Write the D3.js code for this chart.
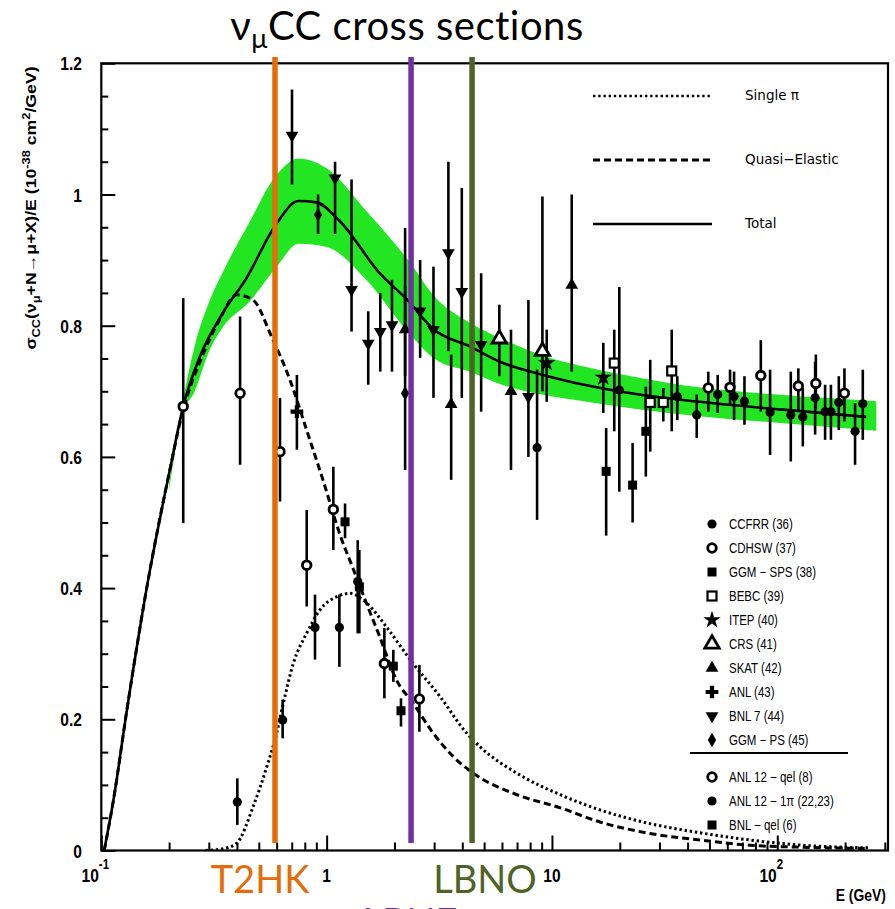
<!DOCTYPE html>
<html><head><meta charset="utf-8">
<script src="https://cdn.jsdelivr.net/npm/d3@7/dist/d3.min.js"></script>
<style>html,body{margin:0;padding:0;background:#fff;}svg{display:block}</style>
</head><body>
<svg id="chart" width="895" height="909"></svg>
<script>
// ---------------- data ----------------
const xDomain = [0.1, 310];
const yDomain = [0, 1.2];
const xMajorTicks = [0.1, 1, 10, 100];
const xMinorTicks = [0.2,0.3,0.4,0.5,0.6,0.7,0.8,0.9,2,3,4,5,6,7,8,9,20,30,40,50,60,70,80,90,200,300];
const xTickBase = ["10", "1", "10", "10"];
const xTickExp  = ["-1", "", "", "2"];
const yMajorTicks = [0, 0.2, 0.4, 0.6, 0.8, 1.0, 1.2];
const yMinorTicks = [0.05,0.1,0.15,0.25,0.3,0.35,0.45,0.5,0.55,0.65,0.7,0.75,0.85,0.9,0.95,1.05,1.1,1.15];
const yTickLabels = ["0", "0.2", "0.4", "0.6", "0.8", "1", "1.2"];

// Total cross-section prediction
const totalE = [0.103,0.113,0.13,0.16,0.2,0.231,0.274,0.35,0.44,0.59,0.75,0.9,1.14,1.72,2.27,2.97,4.34,5.88,9.14,14.8,24.4,45,106,248];
const totalV = [0.0,0.075,0.215,0.405,0.575,0.677,0.753,0.822,0.872,0.952,0.99,0.988,0.96,0.88,0.84,0.795,0.768,0.745,0.725,0.708,0.695,0.684,0.672,0.661];
// uncertainty band
const bandE  = [0.2,0.23,0.26,0.3,0.35,0.45,0.6,0.75,1.0,1.5,2.3,3.0,4.3,6,9,15,25,45,100,275];
const bandHi = [0.56,0.685,0.77,0.835,0.885,0.955,1.03,1.055,1.04,0.975,0.9,0.845,0.805,0.78,0.755,0.735,0.72,0.706,0.695,0.685];
const bandLo = [0.55,0.665,0.70,0.76,0.80,0.835,0.89,0.925,0.92,0.87,0.79,0.75,0.73,0.71,0.695,0.683,0.672,0.662,0.652,0.64];
// Quasi-elastic
const qelE = [0.103,0.113,0.13,0.16,0.2,0.231,0.274,0.33,0.40,0.472,0.57,0.688,0.815,0.963,1.15,1.31,1.51,1.72,2.04,2.42,2.97,3.65,4.47,7,10.9,16.3,27.2,45.4,75.6,130,253];
const qelV = [0.0,0.075,0.215,0.405,0.575,0.672,0.745,0.805,0.847,0.839,0.783,0.717,0.641,0.565,0.48,0.43,0.375,0.326,0.26,0.2245,0.179,0.143,0.118,0.085,0.065,0.0435,0.026,0.016,0.008,0.005,0.003];
// Single pion
const pionE = [0.29,0.35,0.399,0.472,0.543,0.6,0.643,0.711,0.815,0.935,1.11,1.27,1.51,1.84,2.42,3.18,4.18,4.8,7.3,10.9,16.3,27.2,45.4,75.6,130,253];
const pionV = [0.0,0.003,0.011,0.067,0.128,0.179,0.225,0.285,0.331,0.367,0.387,0.392,0.377,0.341,0.285,0.235,0.179,0.158,0.114,0.085,0.062,0.041,0.027,0.016,0.008,0.004];

// measurements: [E (GeV), sigma/E, lower end of error bar, upper end of error bar]
const ccfrr = [[8.59,0.614,0.504,0.733],[19.9,0.702,0.547,0.859],[36.0,0.692,0.656,0.723],[43.9,0.664,0.629,0.695],
  [54.4,0.695,0.667,0.725],[64.3,0.692,0.656,0.730],[71.5,0.685,0.649,0.723],[92.9,0.668,0.603,0.733],
  [114.8,0.664,0.593,0.730],[129.8,0.661,0.616,0.705],[147.2,0.690,0.634,0.745],[163,0.669,0.626,0.710],
  [173,0.669,0.626,0.710],[187.5,0.683,0.641,0.723],[221.4,0.639,0.588,0.682],[239.6,0.681,0.626,0.733]];
const cdhsw = [[49.4,0.705,0.669,0.730],[61.7,0.706,0.679,0.733],[84.5,0.724,0.669,0.778],[124,0.708,0.669,0.735],
  [148.3,0.712,0.672,0.756],[198.6,0.697,0.654,0.735]];
const ggmSps = [[17.4,0.578,0.48,0.644],[22.8,0.557,0.50,0.621],[26.1,0.639,0.570,0.707]];
const bebc = [[18.9,0.743,0.639,0.794],[27.3,0.683,0.608,0.748],[31.2,0.683,0.654,0.705],[34.0,0.731,0.639,0.794]];
const itep = [[9.48,0.743,0.684,0.794],[16.9,0.721,0.667,0.774]];
const crs = [[5.84,0.780,0.723,0.832],[9.07,0.761,0.70,0.997]];
const skat = [[2.23,0.794,0.723,0.949],[3.57,0.680,0.565,0.756],[6.58,0.700,0.580,0.794],[12.24,0.862,0.730,1.0]];
const anl = [[0.738,0.669,0.611,0.725]];
const bnl7 = [[0.702,1.090,1.015,1.16],[1.09,1.025,0.94,1.05],[1.29,0.855,0.791,1.023],[1.53,0.773,0.710,0.822],
  [1.73,0.791,0.730,0.850],[1.95,0.801,0.730,0.870],[2.60,0.822,0.751,0.900],[2.98,0.794,0.690,0.890],
  [3.47,0.911,0.761,1.050],[3.98,0.852,0.690,1.010],[4.85,0.771,0.669,0.880],[7.86,0.692,0.60,0.839]];
const ggmPs = [[0.916,0.969,0.94,1.0],[2.23,0.697,0.580,0.860]];
const anl12qel = [[0.231,0.677,0.499,0.842],[0.413,0.697,0.588,0.814],[0.621,0.608,0.532,0.690],[0.816,0.435,0.372,0.519],
  [1.071,0.520,0.458,0.585],[1.804,0.285,0.232,0.339],[2.58,0.231,0.181,0.283]];
const anl12pi = [[0.4015,0.074,0.039,0.110],[0.638,0.199,0.171,0.230],[0.888,0.340,0.291,0.390],[1.139,0.340,0.280,0.390],
  [1.374,0.410,0.331,0.473]];
const bnlQel = [[1.207,0.501,0.476,0.529],[1.397,0.402,0.331,0.458],[1.977,0.281,0.257,0.306],[2.138,0.213,0.189,0.232]];

const seriesNames = ["CCFRR (36)","CDHSW (37)","GGM − SPS (38)","BEBC (39)","ITEP (40)","CRS (41)","SKAT (42)","ANL (43)","BNL 7 (44)","GGM − PS (45)","ANL 12 − qel (8)","ANL 12 − 1π (22,23)","BNL − qel (6)"];
const seriesData = [ccfrr, cdhsw, ggmSps, bebc, itep, crs, skat, anl, bnl7, ggmPs, anl12qel, anl12pi, bnlQel];
const curveNames = ["Single π", "Quasi−Elastic", "Total"];
const experimentNames = ["T2HK", "LBNE", "LBNO"];
const experimentE = [0.59, 2.37, 4.42];

// ---------------- layout / style ----------------
const W = 895, H = 909;
const plot = {left: 101.3, right: 888, top: 63.3, bottom: 850.5};
const seriesMarker = ["fcircle","ocircle","fsquare","osquare","star","otri","ftri","cross","dtri","diamond","ocircle","fcircle","fsquare"];
const expColors = ["#E46C0A", "#7030A0", "#4F6228"];
const bandColor = "#22e622";

const svg = d3.select("#chart");
svg.append("rect").attr("width", W).attr("height", H).attr("fill", "#fff");

const x = d3.scaleLog().domain(xDomain).range([plot.left, plot.right]);
const y = d3.scaleLinear().domain(yDomain).range([plot.bottom, plot.top]);

svg.append("clipPath").attr("id", "clip").append("rect")
  .attr("x", plot.left).attr("y", plot.top)
  .attr("width", plot.right - plot.left).attr("height", plot.bottom - plot.top);

const gPlot = svg.append("g").attr("clip-path", "url(#clip)");

// band
const band = bandE.map((e, i) => ({e, lo: bandLo[i], hi: bandHi[i]}));
gPlot.append("path").datum(band)
  .attr("d", d3.area().x(d => x(d.e)).y0(d => y(d.lo)).y1(d => y(d.hi)).curve(d3.curveMonotoneX))
  .attr("fill", bandColor);

const line = d3.line().x(d => x(d[0])).y(d => y(d[1])).curve(d3.curveMonotoneX);
gPlot.append("path").datum(pionE.map((e, i) => [e, pionV[i]]))
  .attr("d", line).attr("fill", "none").attr("stroke", "#000")
  .attr("stroke-width", 3).attr("stroke-dasharray", "2.4,2.8");
gPlot.append("path").datum(qelE.map((e, i) => [e, qelV[i]]))
  .attr("d", line).attr("fill", "none").attr("stroke", "#000")
  .attr("stroke-width", 3).attr("stroke-dasharray", "7,4");
gPlot.append("path").datum(totalE.map((e, i) => [e, totalV[i]]))
  .attr("d", line).attr("fill", "none").attr("stroke", "#000")
  .attr("stroke-width", 2.6);

// markers
function drawMarker(g, type, cx, cy) {
  const sym = (t, s) => d3.symbol().type(t).size(s)();
  switch (type) {
    case "fcircle": g.append("circle").attr("cx", cx).attr("cy", cy).attr("r", 4.6).attr("fill", "#000"); break;
    case "ocircle": g.append("circle").attr("cx", cx).attr("cy", cy).attr("r", 4.3).attr("fill", "#fff").attr("stroke", "#000").attr("stroke-width", 2.8); break;
    case "fsquare": g.append("rect").attr("x", cx - 4.5).attr("y", cy - 4.5).attr("width", 9).attr("height", 9).attr("fill", "#000"); break;
    case "osquare": g.append("rect").attr("x", cx - 4.5).attr("y", cy - 4.5).attr("width", 9).attr("height", 9).attr("fill", "#fff").attr("stroke", "#000").attr("stroke-width", 2.2); break;
    case "star": g.append("path").attr("d", sym(d3.symbolStar, 95)).attr("transform", `translate(${cx},${cy})`).attr("fill", "#000"); break;
    case "otri": g.append("path").attr("d", sym(d3.symbolTriangle, 90)).attr("transform", `translate(${cx},${cy})`).attr("fill", "#fff").attr("stroke", "#000").attr("stroke-width", 2.8); break;
    case "ftri": g.append("path").attr("d", sym(d3.symbolTriangle, 70)).attr("transform", `translate(${cx},${cy})`).attr("fill", "#000"); break;
    case "dtri": g.append("path").attr("d", sym(d3.symbolTriangle, 70)).attr("transform", `translate(${cx},${cy}) rotate(180)`).attr("fill", "#000"); break;
    case "cross": g.append("path").attr("d", sym(d3.symbolCross, 90)).attr("transform", `translate(${cx},${cy})`).attr("fill", "#000"); break;
    case "diamond": g.append("path").attr("d", sym(d3.symbolDiamond, 60)).attr("transform", `translate(${cx},${cy})`).attr("fill", "#000"); break;
  }
}

const gPts = svg.append("g");
seriesData.forEach((ser, si) => {
  ser.forEach(d => {
    gPts.append("line").attr("x1", x(d[0])).attr("x2", x(d[0]))
      .attr("y1", y(d[2])).attr("y2", y(d[3]))
      .attr("stroke", "#000").attr("stroke-width", 2.6);
  });
});
seriesData.forEach((ser, si) => {
  ser.forEach(d => drawMarker(gPts, seriesMarker[si], x(d[0]), y(d[1])));
});

// axes
const gAx = svg.append("g").attr("class", "axes");
const styleAxis = g => { g.select(".domain").remove(); g.selectAll("line").attr("stroke", "#000").attr("stroke-width", 2); g.selectAll("text").remove(); };
gAx.append("g").attr("transform", `translate(0,${plot.bottom})`)
  .call(d3.axisBottom(x).tickValues(xMajorTicks).tickSize(-15)).call(styleAxis);
gAx.append("g").attr("transform", `translate(0,${plot.bottom})`)
  .call(d3.axisBottom(x).tickValues(xMinorTicks).tickSize(-8)).call(styleAxis);
gAx.append("g").attr("transform", `translate(${plot.left},0)`)
  .call(d3.axisLeft(y).tickValues(yMajorTicks).tickSize(-14)).call(styleAxis);
gAx.append("g").attr("transform", `translate(${plot.left},0)`)
  .call(d3.axisLeft(y).tickValues(yMinorTicks).tickSize(-7)).call(styleAxis);
svg.append("rect").attr("x", plot.left).attr("y", plot.top)
  .attr("width", plot.right - plot.left).attr("height", plot.bottom - plot.top)
  .attr("fill", "none").attr("stroke", "#000").attr("stroke-width", 2.2);

// text helper (horizontally compressed to mimic the stretched original)
function label(px, py, str, o = {}) {
  const t = svg.append("text")
    .attr("transform", `translate(${px},${py}) scale(${o.sx || 1},1)`)
    .attr("text-anchor", o.anchor || "start")
    .attr("font-family", o.family || "Liberation Sans, Arial, sans-serif")
    .attr("font-size", o.size || 14)
    .attr("font-weight", o.weight || "normal")
    .attr("fill", o.fill || "#000");
  if (o.ls) t.attr("letter-spacing", o.ls);
  if (str !== null) t.text(str);
  return t;
}

// y tick labels
yMajorTicks.forEach((v, i) => label(82, y(v) + 7, yTickLabels[i], {anchor: "end", size: 19, weight: "bold", sx: 0.82}));
// x tick labels
xMajorTicks.forEach((v, i) => {
  const t = label(x(v) - (xTickExp[i] ? 6 : 0), 882, null, {anchor: "middle", size: 19, weight: "bold", sx: 0.82});
  t.append("tspan").text(xTickBase[i]);
  if (xTickExp[i]) t.append("tspan").attr("dy", -13).attr("font-size", 14).text(xTickExp[i]);
});
label(886, 901, "E (GeV)", {anchor: "end", size: 17, weight: "bold", sx: 0.82});

// y axis title (rotated)
{
  const t = svg.append("text")
    .attr("transform", `translate(36,208) rotate(-90) scale(1.22,1)`)
    .attr("text-anchor", "middle")
    .attr("font-family", "Liberation Sans, Arial, sans-serif")
    .attr("font-size", 14.5).attr("font-weight", "bold");
  t.append("tspan").text("σ");
  t.append("tspan").attr("dy", 4).attr("font-size", 10.5).text("CC");
  t.append("tspan").attr("dy", -4).text("(ν");
  t.append("tspan").attr("dy", 4).attr("font-size", 10.5).text("μ");
  t.append("tspan").attr("dy", -4).text("+N→μ+X)/E   (10");
  t.append("tspan").attr("dy", -6).attr("font-size", 10.5).text("-38");
  t.append("tspan").attr("dy", 6).text(" cm");
  t.append("tspan").attr("dy", -6).attr("font-size", 10.5).text("2");
  t.append("tspan").attr("dy", 6).text("/GeV)");
}

// legend: curves
const curveLegendY = [96, 160, 224];
const curveDash = ["2.4,2.8", "7,4", null];
const curveWidth = [2.6, 3, 2.6];
curveNames.forEach((n, i) => {
  const l = svg.append("line").attr("x1", 593).attr("x2", 712)
    .attr("y1", curveLegendY[i]).attr("y2", curveLegendY[i])
    .attr("stroke", "#000").attr("stroke-width", curveWidth[i]);
  if (curveDash[i]) l.attr("stroke-dasharray", curveDash[i]);
  label(745, curveLegendY[i] + 4, n, {size: 13.5, family: "DejaVu Sans, sans-serif"});
});

// legend: data series
const legRowY = [524,548,572,596,620,644,668,692,716,740,777,801,825];
seriesNames.forEach((n, i) => {
  drawMarker(svg, seriesMarker[i], 712, legRowY[i]);
  label(729, legRowY[i] + 5, n, {size: 14, sx: 0.82});
});
svg.append("line").attr("x1", 690).attr("x2", 848).attr("y1", 753).attr("y2", 753)
  .attr("stroke", "#000").attr("stroke-width", 2);

// overlay: experiment energies
experimentE.forEach((e, i) => {
  svg.append("line").attr("x1", x(e)).attr("x2", x(e)).attr("y1", 57).attr("y2", 843)
    .attr("stroke", expColors[i]).attr("stroke-width", 5.5);
});
const expLabelX = [260, 410, 485];
const expLabelY = [893, 936, 893];
experimentNames.forEach((n, i) => {
  label(expLabelX[i], expLabelY[i], n, {anchor: "middle", size: 38, family: "Lato, Carlito, sans-serif", fill: expColors[i]});
});

// title
{
  const t = label(407, 40, null, {anchor: "middle", size: 40, family: "Lato, Carlito, sans-serif", ls: 0.5});
  t.append("tspan").text("ν");
  t.append("tspan").attr("dy", 8).attr("font-size", 27).text("μ");
  t.append("tspan").attr("dy", -8).text("CC cross sections");
}
</script>
</body></html>
